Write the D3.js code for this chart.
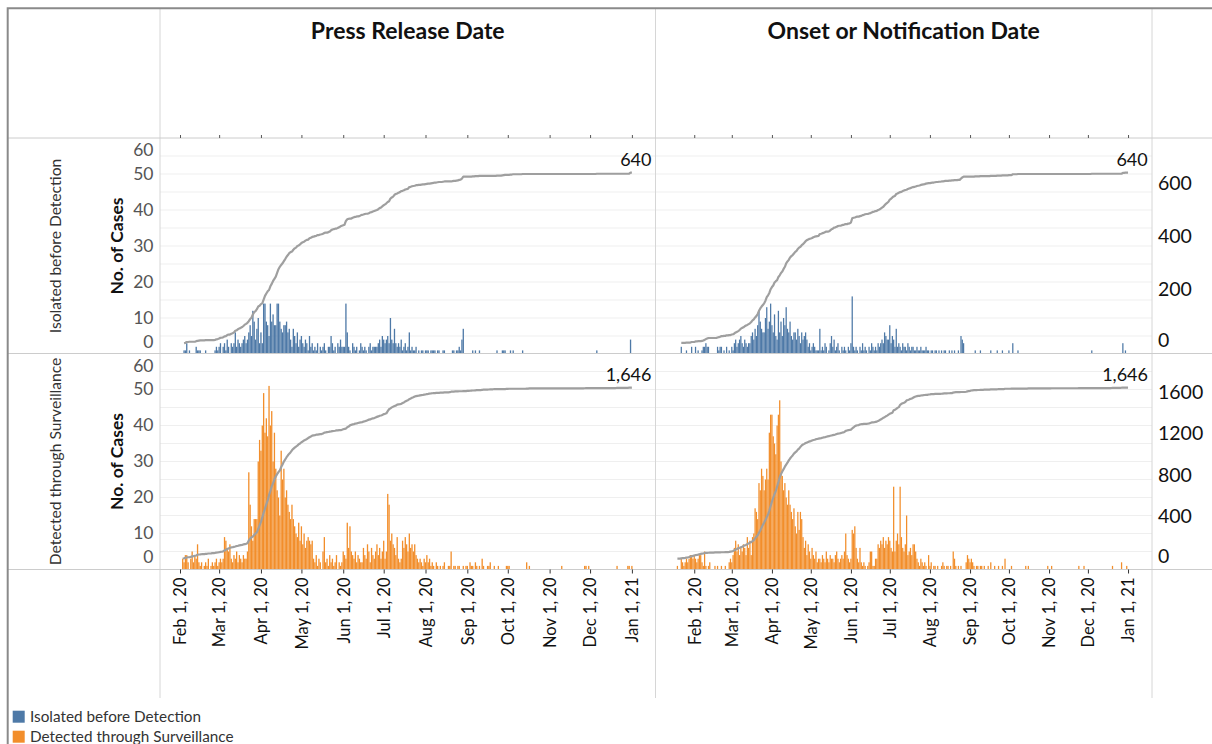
<!DOCTYPE html>
<html>
<head>
<meta charset="utf-8">
<script src="https://cdn.jsdelivr.net/npm/d3@7"></script>
<style>
  body { margin: 0; background: #fff; }
  text { font-family: Lato, "Noto Sans", sans-serif; }
</style>
</head>
<body>
<svg id="chart" width="1212" height="744"></svg>
<script>
// ---- data: daily case counts ----
// press release series start on Feb 1 2020, onset series start on Jan 1 2020; all end Jan 1 2021
const pressStart = Date.UTC(2020, 1, 1);
const onsetStart = Date.UTC(2020, 0, 1);

const pressIsolated = [
  // Feb
  0,0,0,1,1,3,0,1,0,0, 0,0,2,1,1,1,0,0,0,1, 0,0,0,0,0,0,1,2,1,
  // Mar
  2,3,0,2,3,1,4,2,0,3, 2,3,6,2,4,3,2,3,4,5, 3,4,6,8,5,12,9,4,7,10, 3,
  // Apr
  6,3,14,14,9,8,5,14,9,11, 8,8,14,14,9,7,6,8,8,9, 6,7,4,2,7,5,3,6,2,4,
  // May
  5,3,2,4,3,1,5,2,3,1, 2,1,3,0,2,1,2,3,1,0, 2,2,5,3,1,2,0,3,2,4, 2,
  // Jun
  2,2,14,6,2,1,0,3,2,1, 2,0,1,3,2,1,2,1,0,2, 3,1,2,2,2,2,3,4,2,5,
  // Jul
  4,3,4,5,3,10,4,3,7,3, 2,3,2,4,1,2,3,1,2,6, 1,2,1,1,2,0,1,0,1,1, 0,
  // Aug
  1,1,1,0,1,1,1,1,0,1, 1,0,0,1,1,0,0,0,0,0, 1,1,0,1,1,2,1,4,7,0, 0,
  // Sep
  0,0,0,0,1,0,1,0,0,1, 0,0,0,0,0,0,0,0,0,0, 0,0,1,0,0,0,1,1,1,0,
  // Oct
  0,0,1,0,1,0,0,0,0,0, 0,1,0,0,0,0,0,0,0,0, 0,0,0,0,0,0,0,0,0,0, 0,
  // Nov
  0,0,0,0,0,0,0,0,0,0, 0,0,0,0,0,0,0,0,0,0, 0,0,0,0,0,0,0,0,0,0,
  // Dec
  0,0,0,0,0,1,0,0,0,0, 0,0,0,0,0,0,0,0,0,0, 0,0,0,0,0,0,0,0,0,0, 4,
  // Jan 1
  0
];

const onsetIsolated = [
  // Jan
  0,0,0,0,0,0,0,0,0,0, 0,0,0,0,0,0,0,0,0,0, 0,2,0,0,0,1,0,0,0,2, 0,
  // Feb
  0,2,0,1,0,0,1,2,2,3, 2,2,0,0,0,0,0,0,2,1, 2,2,0,1,0,2,0,1,0,
  // Mar
  2,1,3,4,2,3,4,5,3,2, 4,3,2,3,3,5,6,4,7,5, 8,12,9,7,6,6,10,13,7,9, 14,
  // Apr
  8,6,11,5,4,12,6,9,5,10, 8,13,7,6,9,5,4,6,6,4, 7,5,3,6,4,5,6,4,2,3,
  // May
  1,2,3,2,1,1,1,7,1,2, 1,3,2,0,1,3,5,2,4,1, 2,3,1,0,2,1,2,1,0,2, 1,
  // Jun
  3,16,2,1,2,1,0,2,1,3, 1,2,1,0,2,1,3,2,1,2, 1,3,2,3,4,3,6,5,4,4,
  // Jul
  8,3,5,4,2,7,2,3,2,1, 3,2,2,1,3,2,1,2,2,1, 1,2,1,1,2,1,1,1,2,1, 1,
  // Aug
  0,1,1,0,1,1,0,1,0,1, 0,1,1,0,0,1,0,1,0,1, 0,0,1,0,5,4,3,0,0,0, 0,
  // Sep
  0,0,0,0,1,0,0,0,1,0, 0,0,0,0,0,0,1,0,0,0, 0,1,0,0,0,1,0,0,0,0,
  // Oct
  1,0,0,3,0,0,0,1,0,0, 0,0,0,0,0,0,0,0,0,0, 0,0,0,0,0,0,0,0,0,0, 0,
  // Nov
  0,0,0,0,0,0,0,0,0,0, 0,0,0,0,0,0,0,0,0,0, 0,0,0,0,0,0,0,0,0,0,
  // Dec
  0,0,0,1,0,0,0,0,0,0, 0,0,0,0,0,0,0,0,0,0, 0,0,0,0,0,0,0,3,0,1, 0,
  // Jan 1
  0
];

const pressSurveillance = [
  // Feb
  0,0,3,2,4,4,2,0,3,5, 2,4,3,7,2,1,2,0,1,2, 1,3,0,1,2,1,2,3,1,
  // Mar
  2,3,2,3,9,8,6,5,7,3, 2,4,3,5,2,4,3,2,4,3, 3,5,27,18,12,8,14,14,14,30, 36,
  // Apr
  33,40,49,38,42,37,51,40,44,30, 38,28,22,20,15,33,25,28,20,22, 18,16,14,18,14,12,10,9,13,8,
  // May
  12,7,10,6,8,9,8,7,8,3, 2,4,1,3,2,0,5,9,2,3, 1,4,2,3,1,2,4,0,2,1, 2,
  // Jun
  5,4,3,13,6,12,5,4,3,5, 2,4,3,2,2,6,4,3,7,5, 2,6,4,3,5,7,4,6,3,5,
  // Jul
  8,3,5,21,18,8,10,7,6,4, 9,3,2,3,8,6,9,7,5,10, 6,7,5,7,4,3,2,3,2,1, 3,
  // Aug
  2,4,2,3,1,2,1,0,2,1, 0,1,0,1,2,0,0,1,1,5, 0,1,1,0,1,1,0,0,1,0, 1,
  // Sep
  1,0,2,1,1,0,2,1,0,1, 0,3,1,0,0,1,1,2,0,0, 1,0,0,1,0,0,0,0,0,1,
  // Oct
  1,1,0,0,0,0,0,0,0,0, 0,0,0,0,2,0,1,0,0,0, 0,0,0,0,0,0,0,0,0,0, 0,
  // Nov
  0,0,0,0,0,0,0,0,0,1, 0,0,0,0,0,0,0,0,0,0, 0,0,0,0,0,0,1,1,0,1,
  // Dec
  0,0,0,0,0,0,0,0,0,0, 0,0,0,0,0,0,0,0,0,0, 1,0,0,0,0,0,0,0,1,1, 0,
  // Jan 1
  1
];

const onsetSurveillance = [
  // Jan
  0,0,0,0,0,0,0,0,0,0, 0,0,0,0,0,0,0,0,1,0, 0,3,2,1,2,3,2,3,4,4, 3,
  // Feb
  4,3,2,3,4,4,2,1,5,1, 0,1,2,0,0,0,1,0,1,0, 0,1,0,0,1,0,0,2,3,
  // Mar
  2,4,6,8,5,7,4,6,5,7, 6,4,9,6,8,4,9,10,17,16, 14,24,22,28,26,22,25,28,25,38, 43,
  // Apr
  43,37,35,32,40,43,47,30,26,22, 24,20,18,22,18,16,14,17,12,10, 16,11,16,14,9,6,8,4,7,5,
  // May
  3,6,4,3,5,2,3,3,2,4, 3,2,5,3,2,4,3,3,2,4, 5,3,2,3,4,3,5,10,4,3, 2,
  // Jun
  3,11,10,12,6,3,2,6,2,1, 2,1,0,1,2,5,5,1,1,3, 3,7,6,8,7,9,6,8,7,9,
  // Jul
  8,6,5,23,5,8,10,7,23,9, 6,5,7,15,4,5,6,4,7,7, 5,3,2,1,3,2,1,2,1,0, 4,
  // Aug
  1,2,0,1,1,0,1,0,0,1, 2,1,0,1,1,0,1,0,5,3, 1,0,1,0,1,0,0,0,2,4, 3,
  // Sep
  2,3,2,1,0,1,1,0,1,1, 0,1,0,0,1,0,2,0,0,1, 0,0,1,0,0,1,0,3,0,0,
  // Oct
  0,0,1,0,0,0,0,0,0,0, 0,0,0,1,0,1,0,0,0,0, 0,0,0,0,0,0,0,0,0,0, 1,
  // Nov
  0,0,1,0,0,0,0,0,0,0, 0,0,0,0,0,0,0,0,0,0, 0,0,0,1,0,0,0,1,0,0,
  // Dec
  0,0,0,0,0,0,0,0,0,0, 0,0,0,0,0,0,0,0,0,1, 0,0,0,0,0,0,2,0,0,0, 1,
  // Jan 1
  0
];

const columnTitles = ["Press Release Date", "Onset or Notification Date"];
const rowTitles = ["Isolated before Detection", "Detected through Surveillance"];
const leftTicks = [0, 10, 20, 30, 40, 50, 60];
const rightTicks = [[0, 200, 400, 600], [0, 400, 800, 1200, 1600]];
const legendLabels = ["Isolated before Detection", "Detected through Surveillance"];

// ---- layout ----
const colX = [[160, 655.5], [655.5, 1152]];
const rowY = [[138, 354], [353.5, 569.5]];
const xDomains = [
  [new Date(Date.UTC(2020, 0, 17, 4)), new Date(Date.UTC(2021, 0, 18, 12))],
  [new Date(Date.UTC(2020, 0, 2, 2)), new Date(Date.UTC(2021, 0, 19, 12))]
];
const rightDomains = [[-40, 770], [-103, 1974]];
const colors = ["#4e79a7", "#f28e2b"];
const starts = [pressStart, onsetStart];
const series = [[pressIsolated, onsetIsolated], [pressSurveillance, onsetSurveillance]];
const font = "Lato, 'Noto Sans', sans-serif";

const svg = d3.select("#chart");
const xs = colX.map((r, c) => d3.scaleUtc().domain(xDomains[c]).range(r));
const yLeft = rowY.map(r => d3.scaleLinear().domain([0, 60]).range([r[1], r[0]]));
const yRight = rowY.map((r, i) => d3.scaleLinear().domain(rightDomains[i]).range([r[1], r[0]]));
const clamp = (v, lo, hi) => Math.max(lo, Math.min(hi, v));
const monthTicks = d3.utcMonth.range(new Date(Date.UTC(2020, 1, 1)), new Date(Date.UTC(2021, 0, 2)));
const fmtTick = d3.utcFormat("%b %-d, %y");

// gridlines
rowY.forEach((r, i) => {
  svg.append("g").selectAll("line")
    .data(d3.range(5, 60, 5))
    .join("line")
    .attr("x1", colX[0][0]).attr("x2", colX[1][1])
    .attr("y1", d => yLeft[i](d)).attr("y2", d => yLeft[i](d))
    .attr("stroke", "#efefef").attr("stroke-width", 1);
});

// bars + running total line
rowY.forEach((r, i) => {
  colX.forEach((cx, c) => {
    const x = xs[c];
    const vals = series[i][c];
    const pts = vals.map((v, k) => ({ date: new Date(starts[c] + k * 864e5), v }));
    const dayW = x(new Date(starts[c] + 864e5)) - x(new Date(starts[c]));
    const bw = dayW * 0.97;

    svg.append("g").selectAll("rect")
      .data(pts.filter(d => d.v > 0))
      .join("rect")
      .attr("x", d => x(d.date) - bw / 2)
      .attr("width", bw)
      .attr("y", d => yLeft[i](d.v))
      .attr("height", d => yLeft[i](0) - yLeft[i](d.v))
      .attr("fill", colors[i]);

    let run = 0;
    pts.forEach(d => { run += d.v; d.cum = run; });
    const first = pts.findIndex(d => d.v > 0);
    const linePts = pts.slice(first);
    svg.append("path")
      .datum(linePts)
      .attr("fill", "none")
      .attr("stroke", "#9f9f9f")
      .attr("stroke-width", 2.2)
      .attr("stroke-linejoin", "round")
      .attr("d", d3.line().x(d => x(d.date)).y(d => yRight[i](d.cum)));

    const last = linePts[linePts.length - 1];
    const lab = svg.append("text")
      .attr("y", yRight[i](last.cum) - 7)
      .attr("text-anchor", "middle")
      .attr("font-size", 18)
      .attr("fill", "#111")
      .text(d3.format(",")(last.cum));
    const w = lab.node().getComputedTextLength();
    const cxPos = Math.min(x(last.date) + 4, cx[1] - 4 - w / 2);
    lab.attr("x", cxPos);
  });
});

// frame lines
const frame = svg.append("g").attr("fill", "none");
[160, 655.5, 1152].forEach(xv => {
  frame.append("line").attr("x1", xv).attr("x2", xv).attr("y1", 8).attr("y2", 698)
    .attr("stroke", "#d6d6d6");
});
[138, 353.5, 569.5].forEach(yv => {
  frame.append("line").attr("x1", 8).attr("x2", 1212).attr("y1", yv).attr("y2", yv)
    .attr("stroke", "#cccccc");
});
frame.append("path").attr("d", "M7.7,744V8.3H1212")
  .attr("stroke", "#8a8a8a").attr("stroke-width", 2);

// column titles
columnTitles.forEach((t, c) => {
  svg.append("text")
    .attr("x", (colX[c][0] + colX[c][1]) / 2).attr("y", 39)
    .attr("text-anchor", "middle").attr("font-size", 23).attr("font-weight", 700)
    .attr("fill", "#111").text(t);
});

// row titles
rowTitles.forEach((t, i) => {
  const cy = (rowY[i][0] + rowY[i][1]) / 2;
  svg.append("text")
    .attr("transform", `translate(56,${cy}) rotate(-90)`)
    .attr("text-anchor", "middle").attr("dy", "0.35em")
    .attr("font-size", 15.6).attr("fill", "#333").text(t);
  svg.append("text")
    .attr("transform", `translate(117,${cy}) rotate(-90)`)
    .attr("text-anchor", "middle").attr("dy", "0.35em")
    .attr("font-size", 17.5).attr("font-weight", 700).attr("fill", "#111").text("No. of Cases");
});

// left value axes
rowY.forEach((r, i) => {
  const g = svg.append("g").attr("transform", "translate(153.5,0)")
    .call(d3.axisLeft(yLeft[i]).tickValues(leftTicks).tickSize(0).tickPadding(0));
  g.select(".domain").remove();
  g.selectAll(".tick").attr("transform", d => `translate(0,${clamp(yLeft[i](d), r[0] + 12.5, r[1] - 12)})`);
  g.selectAll("text").attr("font-family", font).attr("font-size", 17.5).attr("fill", "#555");
});

// right value axes
rowY.forEach((r, i) => {
  const g = svg.append("g").attr("transform", "translate(1158,0)")
    .call(d3.axisRight(yRight[i]).tickValues(rightTicks[i]).tickFormat(d3.format("d")).tickSize(0).tickPadding(0));
  g.select(".domain").remove();
  g.selectAll(".tick").attr("transform", d => `translate(0,${clamp(yRight[i](d), r[0] + 12.5, r[1] - 13)})`);
  g.selectAll("text").attr("font-family", font).attr("font-size", 19.5).attr("fill", "#111");
});

// date axes
xs.forEach(x => {
  const top = svg.append("g").attr("transform", "translate(0,138)")
    .call(d3.axisTop(x).tickValues(monthTicks).tickFormat("").tickSize(3));
  top.select(".domain").remove();
  top.selectAll("line").attr("stroke", "#555");

  const bot = svg.append("g").attr("transform", "translate(0,569.5)")
    .call(d3.axisBottom(x).tickValues(monthTicks).tickFormat(fmtTick).tickSize(4).tickPadding(0));
  bot.select(".domain").remove();
  bot.selectAll("line").attr("stroke", "#333");
  bot.selectAll("text")
    .attr("font-family", font).attr("font-size", 16.5).attr("fill", "#111")
    .attr("transform", "rotate(-90)")
    .attr("text-anchor", "end")
    .attr("x", -8).attr("y", 0).attr("dy", "0.35em");
});

// legend
legendLabels.forEach((t, i) => {
  const y = 710.7 + i * 20;
  svg.append("rect").attr("x", 12.7).attr("y", y).attr("width", 12).attr("height", 12).attr("fill", colors[i]);
  svg.append("text").attr("x", 30).attr("y", y + 6).attr("dy", "0.35em")
    .attr("font-size", 15.3).attr("fill", "#333").text(t);
});
</script>
</body>
</html>
